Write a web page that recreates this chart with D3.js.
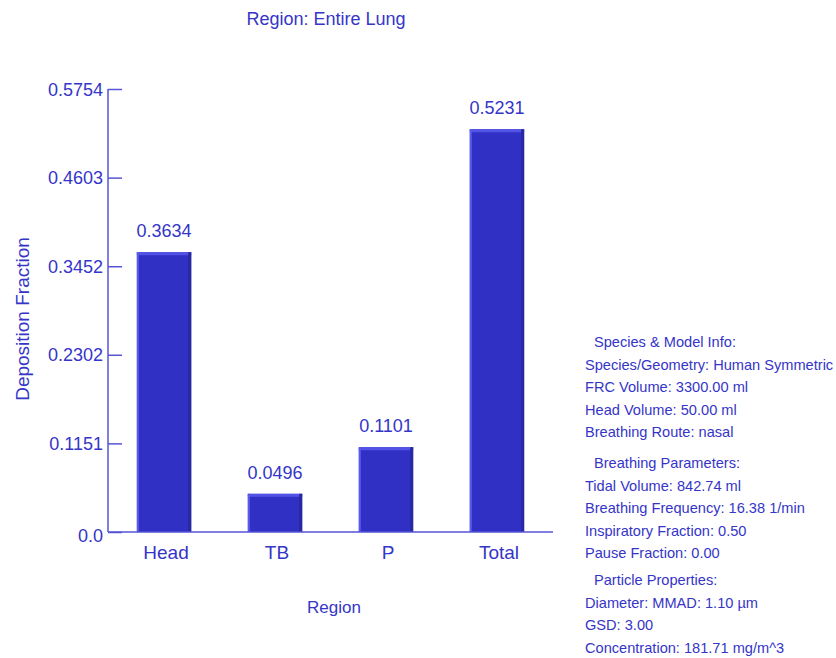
<!DOCTYPE html>
<html>
<head>
<meta charset="utf-8">
<script src="https://cdn.jsdelivr.net/npm/d3@7"></script>
<style>
  body { margin: 0; background: #fff; }
  svg { font-family: "Liberation Sans", Arial, sans-serif; }
</style>
</head>
<body>
<svg id="chart" width="836" height="658"></svg>
<script>
var regions = ["Head", "TB", "P", "Total"];
var fractions = [0.3634, 0.0496, 0.1101, 0.5231];
var yTicks = [0.0, 0.1151, 0.2302, 0.3452, 0.4603, 0.5754];
var yTickLabels = ["0.0", "0.1151", "0.2302", "0.3452", "0.4603", "0.5754"];

var speciesInfo = ["Species/Geometry: Human Symmetric", "FRC Volume: 3300.00 ml", "Head Volume: 50.00 ml", "Breathing Route: nasal"];
var breathingInfo = ["Tidal Volume: 842.74 ml", "Breathing Frequency: 16.38 1/min", "Inspiratory Fraction: 0.50", "Pause Fraction: 0.00"];
var particleInfo = ["Diameter: MMAD: 1.10 \u00b5m", "GSD: 3.00", "Concentration: 181.71 mg/m^3"];

var textColor = "#3535c8";
var axisColor = "#5555d5";
var barColor = "#3030c4";

var svg = d3.select("#chart");
var plotLeft = 108, plotRight = 553, plotTop = 89, plotBottom = 532;

var x = d3.scaleBand().domain(regions).range([plotLeft, plotRight]).paddingInner(0.51).paddingOuter(0.26);
var y = d3.scaleLinear().domain([0, 0.5754]).range([plotBottom, plotTop]);

// title
svg.append("text").attr("x", 326).attr("y", 25).attr("text-anchor", "middle")
    .attr("font-size", 18).attr("fill", textColor).text("Region: Entire Lung");

// bars
var bars = svg.append("g").selectAll("g").data(regions).join("g");
bars.append("rect")
    .attr("x", d => x(d)).attr("y", (d, i) => y(fractions[i]))
    .attr("width", x.bandwidth()).attr("height", (d, i) => plotBottom - y(fractions[i]))
    .attr("fill", barColor);
// bevel: light top and left, dark right
bars.append("rect")
    .attr("x", d => x(d)).attr("y", (d, i) => y(fractions[i]))
    .attr("width", x.bandwidth()).attr("height", 3).attr("fill", "#5252e6");
bars.append("rect")
    .attr("x", d => x(d)).attr("y", (d, i) => y(fractions[i]))
    .attr("width", 2).attr("height", (d, i) => plotBottom - y(fractions[i])).attr("fill", "#5a5aee");
bars.append("rect")
    .attr("x", d => x(d) + x.bandwidth() - 3).attr("y", (d, i) => y(fractions[i]))
    .attr("width", 3).attr("height", (d, i) => plotBottom - y(fractions[i])).attr("fill", "#2828a0");

bars.append("text")
    .attr("x", d => x(d) + x.bandwidth() / 2).attr("y", (d, i) => y(fractions[i]) - 15)
    .attr("text-anchor", "middle").attr("font-size", 18).attr("fill", textColor)
    .text((d, i) => fractions[i].toFixed(4));

// y axis
var yAxis = d3.axisRight(y).tickValues(yTicks).tickSize(14).tickFormat("");
var gy = svg.append("g").attr("transform", "translate(" + plotLeft + ",0)").call(yAxis);
gy.select(".domain").remove();
gy.selectAll("line").attr("stroke", axisColor).attr("stroke-width", 1.5);
svg.append("line").attr("x1", plotLeft).attr("x2", plotLeft).attr("y1", plotTop).attr("y2", plotBottom)
    .attr("stroke", axisColor).attr("stroke-width", 1.5);
svg.append("g").selectAll("text").data(yTicks).join("text")
    .attr("x", 103).attr("y", d => y(d) + (d === 0 ? 9.5 : 6.5)).attr("text-anchor", "end")
    .attr("font-size", 18).attr("fill", textColor)
    .text((d, i) => yTickLabels[i]);

// x axis
svg.append("line").attr("x1", plotLeft).attr("x2", plotRight).attr("y1", plotBottom).attr("y2", plotBottom)
    .attr("stroke", axisColor).attr("stroke-width", 1.5);
svg.append("g").selectAll("text").data(regions).join("text")
    .attr("x", d => x(d) + x.bandwidth() / 2 + 2).attr("y", 559)
    .attr("text-anchor", "middle").attr("font-size", 19).attr("fill", textColor).text(d => d);

svg.append("text").attr("x", 334).attr("y", 613).attr("text-anchor", "middle")
    .attr("font-size", 17).attr("fill", textColor).text("Region");
svg.append("text").attr("transform", "translate(29,319) rotate(-90)").attr("text-anchor", "middle")
    .attr("font-size", 19).attr("fill", textColor).text("Deposition Fraction");

// info panel
var info = svg.append("g").attr("font-size", 14.6).attr("fill", textColor);
function block(header, lines, y0) {
    info.append("text").attr("x", 594).attr("y", y0).text(header);
    info.selectAll(null).data(lines).join("text")
        .attr("x", 585).attr("y", (d, i) => y0 + 22.5 * (i + 1)).text(d => d);
}
block("Species & Model Info:", speciesInfo, 347);
block("Breathing Parameters:", breathingInfo, 468);
block("Particle Properties:", particleInfo, 585);
</script>
</body>
</html>
